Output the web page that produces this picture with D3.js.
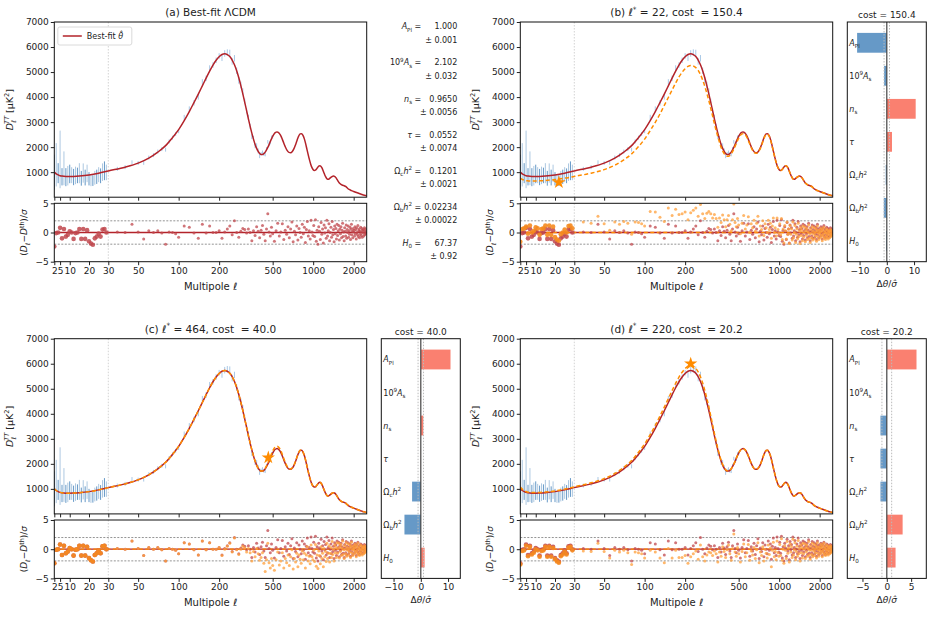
<!DOCTYPE html>
<html lang="en">
<head>
<meta charset="UTF-8">
<title>LCDM perturbations</title>
<script src="https://cdn.jsdelivr.net/npm/d3@7"></script>
<style>
body { margin: 0; background: #fff; }
svg text { font-family: "DejaVu Sans", sans-serif; fill: #222; }
.tick text { font-size: 9px; fill: #222; }
.tick line { stroke: #222; }
.domain { display: none; }
</style>
</head>
<body>
<svg id="fig" width="933" height="626"></svg>
<script>
// ---- multipoles ----
var ellLow = [2,3,4,5,6,7,8,9,10,11,12,13,14,15,16,17,18,19,20,21,22,23,24,25,26,27,28,29];
var ellHigh = [35,40,45,50,55,60,65,70,75,80,85,90,95,100,
  110,120,130,140,150,160,170,180,190,200,210,220,230,240,250,260,270,280,290,300,310,320,330,340,350,360,370,380,390,400,410,420,430,440,450,460,470,480,490,500,
  515,530,545,560,575,590,605,620,635,650,665,680,695,710,725,740,755,770,785,800,815,830,845,860,875,890,905,920,935,950,965,980,995,
  1010,1025,1040,1055,1070,1085,1100,1115,1130,1145,1160,1175,1190,1205,1220,1235,1250,1265,1280,1295,1310,1325,1340,1355,1370,1385,1400,1415,1430,1445,1460,1475,1490,1505,
  1520,1535,1550,1565,1580,1595,1610,1625,1640,1655,1670,1685,1700,1715,1730,1745,1760,1775,1790,1805,1820,1835,1850,1865,1880,1895,1910,1925,1940,1955,1970,1985,2000,
  2015,2030,2045,2060,2075,2090,2105,2120,2135,2150,2165,2180,2195,2210,2225,2240,2255,2270,2285,2300,2315,2330,2345,2360,2375,2390,2405,2420,2435,2450,2465,2480,2495];

// ---- theory spectra D_l [muK^2] ----
var thEll = [2,3,4,5,6,8,10,12,15,20,25,30,40,50,60,70,80,90,100,110,120,130,140,150,160,170,180,190,200,210,220,230,240,250,260,270,280,290,300,310,320,330,340,350,360,370,380,390,400,410,420,430,440,450,460,470,480,490,500,510,520,530,540,550,560,570,580,590,600,
  620,640,660,680,700,720,740,760,780,800,820,840,860,880,900,920,940,960,980,1000,1020,1040,1060,1080,1100,1120,1140,1160,1180,1200,1220,1240,1260,1280,1300,1320,1340,1360,1380,1400,1420,1440,1460,1480,1500,1520,1540,1560,1580,1600,1620,1640,1660,1680,1700,1720,1740,1760,1780,1800,1850,1900,1950,2000,2100,2200,2300,2400,2500];
var thBest = [1000,935,890,860,843,828,826,832,848,890,960,1050,1200,1360,1560,1800,2060,2380,2700,3060,3420,3780,4120,4450,4760,5040,5280,5470,5610,5700,5730,5700,5620,5480,5290,5050,4770,4460,4130,3790,3460,3130,2830,2560,2320,2110,1950,1830,1750,1710,1710,1740,1800,1890,1990,2100,2220,2330,2430,2510,2570,2600,2610,2590,2550,2490,2410,2310,2210,
  2020,1870,1790,1780,1830,1940,2100,2280,2440,2530,2540,2470,2330,2130,1900,1680,1480,1310,1180,1100,1070,1080,1130,1190,1240,1260,1240,1180,1090,990,890,810,750,720,720,740,770,800,825,840,845,835,810,770,720,670,620,580,545,520,500,485,475,468,460,448,430,410,385,360,310,280,255,230,185,145,110,80,58];
var thB = [760,712,680,662,652,643,645,653,668,705,760,830,960,1102,1279,1494,1730,2023,2322,2660,2993,3326,3667,3983,4284,4561,4805,4992,5133,5224,5260,5240,5175,5069,4898,4681,4431,4152,3862,3550,3246,2941,2664,2419,2197,1998,1849,1739,1671,1636,1638,1669,1729,1820,1919,2029,2147,2257,2357,2436,2496,2527,2540,2525,2488,2431,2356,2261,2166,
  1982,1837,1762,1756,1803,1914,2074,2253,2413,2505,2517,2450,2313,2116,1889,1671,1473,1305,1176,1095,1067,1077,1127,1188,1239,1260,1240,1180,1090,990,890,810,750,720,720,740,770,800,825,840,845,835,810,770,720,670,620,580,545,520,500,485,475,468,460,448,430,410,385,360,310,280,255,230,185,145,110,80,58];
var thC = [1000,935,890,860,843,828,826,832,848,890,960,1050,1200,1360,1560,1800,2060,2380,2700,3060,3420,3780,4120,4450,4760,5040,5280,5470,5610,5700,5730,5700,5620,5480,5290,5050,4770,4460,4130,3790,3460,3130,2830,2560,2320,2110,1950,1830,1750,1710,1715,1750,1820,1920,2030,2150,2280,2400,2510,2600,2660,2690,2700,2680,2635,2570,2480,2375,2265,
  2060,1900,1810,1795,1840,1950,2110,2290,2450,2540,2550,2480,2335,2135,1900,1680,1480,1310,1180,1100,1070,1080,1130,1190,1240,1260,1240,1180,1090,990,890,810,750,720,720,740,770,800,825,840,845,835,810,770,720,670,620,580,545,520,500,485,475,468,460,448,430,410,385,360,310,280,255,230,185,145,110,80,58];
var thD = [1080,991,935,894,868,853,851,857,873,917,989,1082,1242,1408,1615,1863,2132,2463,2795,3167,3540,3912,4264,4606,4927,5216,5465,5661,5806,5900,5931,5900,5817,5672,5475,5227,4937,4616,4275,3918,3564,3219,2906,2611,2361,2142,1976,1852,1768,1723,1720,1747,1805,1890,1990,2100,2220,2330,2430,2510,2570,2600,2610,2590,2550,2490,2410,2310,2210,
  2020,1870,1790,1780,1830,1940,2100,2280,2440,2530,2540,2470,2330,2130,1900,1680,1480,1310,1180,1100,1070,1080,1130,1190,1240,1260,1240,1180,1090,990,890,810,750,720,720,740,770,800,825,840,845,835,810,770,720,670,620,580,545,520,500,485,475,468,460,448,430,410,385,360,310,280,255,230,185,145,110,80,58];

// ---- data points: low-l error bar ends, high-l centres and errors ----
var dataLowLo = [300,430,560,360,470,480,440,470,560,560,480,520,560,560,460,580,470,600,470,440,450,500,530,600,560,650,680,680];
var dataLowHi = [1700,2160,1360,2660,1160,1830,1160,1250,1300,1200,1130,1220,1180,1360,1050,1350,1100,1300,1000,900,880,1050,1100,1200,1150,1350,1430,1300];
var dataEll = [35,40,45,50,55,60,65,70,75,80,85,90,95,100,110,120,130,140,150,160,170,180,190,200,210,220,230,240,250,260,270,280,290,300,310,320,330,340,350,360,370,380,390,400,410,420,430,440,450,460,470,480,490,500];
var dataD = [1133,1200,1392,1368,1372,1584,1680,1824,1922,1900,2228,2380,2524,2636,3181,3519,3769,4010,4604,4749,5161,5280,5470,5643,5570,5743,5778,5763,5428,5550,5050,4666,4486,4221,3840,3450,3190,2830,2420,2350,2060,2050,1850,1660,1738,1794,1719,1702,1932,2214,2107,2178,2393,2416];
var dataErr = [80,80,80,80,80,80,80,80,80,80,80,80,80,80,110,110,110,110,110,110,110,110,110,110,130,130,130,130,130,130,130,130,130,130,100,100,100,100,100,100,100,100,100,100,70,70,70,70,70,70,70,70,70,70];

// ---- residuals (D_l - D^th)/sigma ----
var resBestLow = [-2.4,-0.1,0.0,0.8,-1.0,0.6,-0.7,-0.4,0.2,0.0,-1.1,-0.1,0.0,0.6,-1.1,0.6,-1.1,0.4,-1.5,-1.9,-2.1,-1.0,-0.7,-0.2,-0.7,0.5,0.6,0.0];
var resBestHigh = [0.1,0.0,1.4,0.1,-1.1,0.3,0.0,0.3,-0.1,-2.0,0.1,0.0,-0.2,-0.8,
  1.1,0.9,-0.1,-1.0,1.4,-0.1,1.1,0.0,0.0,0.3,-1.0,0.1,0.6,1.1,-0.4,2.0,0.0,-0.8,0.2,0.7,0.5,-0.1,0.6,0.0,-1.4,0.3,-0.5,1.0,0.2,-0.9,0.4,1.2,-0.3,-1.4,0.6,3.2,0.1,-0.6,0.9,-0.2,
  -1.5,0.3,1.6,-0.6,0.1,1.5,-1.2,0.4,-0.3,1.0,-0.9,0.6,1.8,-1.6,0.2,-0.4,1.1,-1.3,0.7,0.0,-0.8,1.4,-0.2,0.9,-1.7,0.5,1.9,-0.6,0.3,-1.1,2.1,0.1,-0.5,
  1.2,-0.7,2.2,-1.5,0.4,-2.0,1.0,0.2,-1.2,1.7,-0.3,0.6,-1.8,1.3,-0.1,0.8,-1.0,2.1,-0.6,0.3,1.5,-1.4,0.0,0.9,-0.8,1.9,-0.4,0.5,-1.6,1.1,-0.2,0.7,-1.1,1.4,
  -0.5,0.3,1.2,-1.3,0.6,-0.2,1.0,-0.9,0.4,1.6,-0.7,0.1,-1.4,0.8,0.2,-0.6,1.3,-1.0,0.5,0.0,1.1,-0.8,0.3,-0.3,0.9,-1.2,0.6,1.4,-0.4,0.2,-0.9,0.7,0.1,
  0.4,-0.6,1.0,-0.2,0.5,-1.1,0.8,0.0,-0.4,1.2,-0.7,0.3,0.6,-0.9,0.2,-0.3,0.9,-0.5,0.1,0.7,-0.8,0.4,-0.1,0.5,-0.6,0.3,0.8,-0.4,0.0,0.6,-0.2,0.3,-0.1];
var resBLow = [-1.6,0.6,0.7,1.0,-0.2,1.2,0.0,0.3,0.9,0.7,-0.4,0.6,0.7,1.2,-0.4,1.2,-0.4,1.0,-0.8,-1.2,-1.4,-0.3,0.0,0.5,0.0,1.1,1.2,0.7];
var resBHigh = [1.8,1.6,2.8,1.5,0.4,1.8,1.4,1.9,1.6,-0.3,1.8,1.7,1.5,1.1,
  3.6,3.5,2.6,1.9,4.2,2.9,4.0,3.1,3.2,3.5,2.2,3.4,3.8,4.2,2.8,4.8,3.2,2.4,3.3,3.6,3.2,2.5,3.1,2.4,0.9,2.5,1.7,3.0,2.2,1.0,2.2,2.9,1.4,0.3,2.2,4.9,1.7,1.0,2.4,1.3,
  -0.2,1.6,2.9,0.6,1.3,2.7,0.0,1.5,0.8,2.1,0.2,1.6,2.8,-0.6,1.1,0.5,2.0,-0.5,1.5,0.8,0.0,2.1,0.5,1.6,-1.0,1.1,2.5,0.0,0.8,-0.6,2.5,0.5,-0.1,
  1.5,-0.4,2.4,-1.2,0.6,-1.8,1.2,0.3,-1.1,1.8,-0.3,0.6,-1.9,1.2,-0.3,0.6,-1.3,1.8,-0.9,0.0,1.2,-1.7,-0.3,0.6,-1.1,1.6,-0.7,0.2,-1.9,0.8,-0.5,0.4,-1.4,1.1,
  -0.8,0.0,0.9,-1.6,0.3,-0.5,0.7,-1.2,0.1,1.3,-1.0,-0.2,-1.7,0.5,-0.1,-0.9,1.0,-1.3,0.2,-0.3,0.8,-1.1,0.0,-0.6,0.6,-1.5,0.3,1.1,-0.7,-0.1,-1.2,0.4,-0.2,
  0.1,-0.9,0.7,-0.5,0.2,-1.4,0.5,-0.3,-0.7,0.9,-1.0,0.0,0.3,-1.2,-0.1,-0.6,0.6,-0.8,-0.2,0.4,-1.1,0.1,-0.4,0.2,-0.9,0.0,0.5,-0.7,-0.3,0.3,-0.5,0.0,-0.4];
var resCLow = [-2.4,-0.1,0.0,0.8,-1.0,0.6,-0.7,-0.4,0.2,0.0,-1.1,-0.1,0.0,0.6,-1.1,0.6,-1.1,0.4,-1.5,-1.9,-2.1,-1.0,-0.7,-0.2,-0.7,0.5,0.6,0.0];
var resCHigh = [0.1,0.0,1.4,0.1,-1.1,0.3,0.0,0.3,-0.1,-2.0,0.1,0.0,-0.2,-0.8,
  1.1,0.9,-0.1,-1.0,1.4,-0.1,1.1,0.0,0.0,0.3,-1.1,0.0,0.5,1.0,-0.5,1.9,-0.1,-0.9,0.0,0.5,0.2,-0.5,0.1,-0.6,-2.0,-0.4,-1.3,0.1,-0.8,-1.9,-1.4,-0.6,-2.4,-3.8,-1.8,1.0,-2.3,-3.2,-1.6,-2.8,
  -3.6,-1.8,-0.5,-2.7,-2.0,-0.6,-3.2,-1.6,-2.3,-1.0,-2.8,-1.3,-0.1,-3.4,-1.6,-2.2,-0.7,-3.0,-1.0,-1.7,-2.4,-0.3,-1.8,-0.7,-3.2,-1.0,0.4,-2.0,-1.2,-2.5,0.7,-1.3,-1.8,
  -0.2,-2.1,0.8,-2.9,-1.0,-3.3,-0.3,-1.1,-2.5,0.4,-1.6,-0.7,-3.0,0.1,-1.3,-0.4,-2.1,1.0,-1.6,-0.7,0.6,-2.2,-0.7,0.3,-1.4,1.3,-0.9,0.0,-2.0,0.7,-0.6,0.3,-1.4,1.1,
  -0.7,0.1,1.0,-1.5,0.4,-0.4,0.8,-1.1,0.2,1.4,-0.9,-0.1,-1.6,0.6,0.0,-0.8,1.1,-1.2,0.3,-0.2,0.9,-1.0,0.1,-0.5,0.7,-1.4,0.4,1.2,-0.6,0.0,-1.1,0.5,-0.1,
  0.2,-0.8,0.8,-0.4,0.3,-1.3,0.6,-0.2,-0.6,1.0,-0.9,0.1,0.4,-1.1,0.0,-0.5,0.7,-0.7,-0.1,0.5,-1.0,0.2,-0.3,0.3,-0.8,0.1,0.6,-0.6,-0.2,0.4,-0.4,0.1,-0.3];
var resDLow = [-2.6,-0.3,-0.2,0.6,-1.2,0.4,-0.9,-0.6,0.0,-0.2,-1.3,-0.3,-0.2,0.4,-1.3,0.4,-1.3,0.2,-1.7,-2.1,-2.3,-1.2,-0.9,-0.4,-0.9,0.3,0.4,-0.2];
var resDHigh = [-0.3,-0.4,1.0,-0.4,-1.5,-0.2,-0.5,-0.2,-0.6,-2.6,-0.5,-0.6,-0.8,-1.5,
  -0.2,-0.5,-1.5,-2.3,0.1,-1.5,-0.2,-1.4,-1.4,-1.1,-2.4,-1.3,-0.8,-0.3,-1.7,0.7,-1.3,-2.0,-1.0,-0.5,-0.6,-1.1,-0.3,-0.8,-2.2,-0.5,-1.2,0.4,-0.4,-1.4,-0.1,0.7,-0.8,-1.9,0.1,2.6,-0.5,-1.2,0.3,-0.8,
  -2.2,-0.4,0.9,-1.3,-0.6,0.8,-1.9,-0.3,-1.0,0.3,-1.6,-0.1,1.1,-2.3,-0.5,-1.1,0.4,-2.0,0.0,-0.7,-1.5,0.7,-0.9,0.2,-3.0,-0.2,1.2,-1.3,-0.4,-1.8,1.4,-0.6,-1.2,
  0.8,-1.1,1.8,-1.9,0.0,-2.4,0.6,-0.2,-1.6,1.3,-0.7,0.2,-2.2,0.9,-0.5,0.4,-1.4,1.7,-1.0,-0.1,1.1,-1.8,-0.4,0.5,-1.2,1.5,-0.8,0.1,-2.0,0.7,-0.6,0.3,-1.5,1.0,
  -0.8,0.0,0.9,-1.6,0.3,-0.5,0.7,-1.2,0.1,1.3,-1.0,-0.2,-1.7,0.5,-0.1,-0.9,1.0,-1.3,0.2,-0.3,0.8,-1.1,0.0,-0.6,0.6,-1.5,0.3,1.1,-0.7,-0.1,-1.2,0.4,-0.2,
  0.2,-0.8,0.8,-0.4,0.3,-1.3,0.6,-0.2,-0.6,1.0,-0.9,0.1,0.4,-1.1,0.0,-0.5,0.7,-0.7,-0.1,0.5,-1.0,0.2,-0.3,0.3,-0.8,0.1,0.6,-0.6,-0.2,0.4,-0.4,0.1,-0.3];

// ---- parameters ----
var paramNames = ["A_Pl", "10^9A_s", "n_s", "tau", "Omega_ch^2", "Omega_bh^2", "H_0"];
var bestVals = ["1.000", "2.102", "0.9650", "0.0552", "0.1201", "0.02234", "67.37"];
var bestErrs = ["0.001", "0.032", "0.0056", "0.0074", "0.0021", "0.00022", "0.92"];
var shiftB = [-10.9, -1.0, 10.6, 1.9, -0.4, -1.1, -0.3];
var shiftC = [10.9, 0.05, 0.9, 0.05, -3.2, -6.0, 1.4];
var shiftD = [6.1, -0.1, -1.3, -1.3, -1.3, 3.25, 1.8];
var starEll = [22, 464, 220];
var starD = [590, 2250, 6000];
var costs = ["150.4", "40.0", "20.2"];

// label pieces for parameter names
var labelParts = {
  "A_Pl": [{t:"A", i:1}, {t:"Pl", pos:"sub"}],
  "10^9A_s": [{t:"10"}, {t:"9", pos:"sup"}, {t:"A", i:1}, {t:"s", pos:"sub"}],
  "n_s": [{t:"n", i:1}, {t:"s", pos:"sub"}],
  "tau": [{t:"τ", i:1}],
  "Omega_ch^2": [{t:"Ω"}, {t:"c", pos:"sub"}, {t:"h", i:1}, {t:"2", pos:"sup"}],
  "Omega_bh^2": [{t:"Ω"}, {t:"b", pos:"sub"}, {t:"h", i:1}, {t:"2", pos:"sup"}],
  "H_0": [{t:"H", i:1}, {t:"0", pos:"sub"}]
};

var RED = "#b3232a", ORANGE = "#ff8c00", BLUE = "#4a86bd", LIGHTBLUE = "#a9c8e6";

var svg = d3.select("#fig");

function rich(text, parts, fs) {
  var shift = 0;
  parts.forEach(function(p) {
    var target = p.pos === "sub" ? fs * 0.3 : p.pos === "sup" ? -fs * 0.42 : 0;
    var t = text.append("tspan").text(p.t).attr("dy", target - shift);
    if (p.dx) t.attr("dx", p.dx);
    if (p.i) t.attr("font-style", "italic");
    if (p.pos) t.attr("font-size", fs * 0.7);
    shift = target;
  });
  return text;
}

var W = 312.4, linW = 54, mainH = 175.2, resTop = 181.3, resH = 58.4;

var panels = [
  {x0: 54.3, y0: 22, title: [{t:"(a) Best-fit ΛCDM"}]},
  {x0: 520.3, y0: 22, k: 0, pert: thB, resLow: resBLow, resHigh: resBHigh, shift: shiftB},
  {x0: 54.3, y0: 338.7, k: 1, pert: thC, resLow: resCLow, resHigh: resCHigh, shift: shiftC},
  {x0: 520.3, y0: 338.7, k: 2, pert: thD, resLow: resDLow, resHigh: resDHigh, shift: shiftD}
];
var letters = ["b", "c", "d"];
panels.forEach(function(p) {
  if (p.k === undefined) return;
  p.title = [{t:"(" + letters[p.k] + ") "}, {t:"ℓ", i:1}, {t:"*", pos:"sup"},
    {t:" = " + starEll[p.k] + ", cost\u00a0 = " + costs[p.k]}];
});

panels.forEach(function(p, pi) {
  var g = svg.append("g").attr("transform", "translate(" + p.x0 + "," + p.y0 + ")");
  var xLin = d3.scaleLinear().domain([2, 30]).range([0, linW]);
  var xLog = d3.scaleLog().domain([30, 2500]).range([linW, W]);
  var x = function(l) { return l <= 30 ? xLin(l) : xLog(l); };
  var y = d3.scaleLinear().domain([0, 7000]).range([mainH, 0]);
  var yr = d3.scaleLinear().domain([-5, 5]).range([resTop + resH, resTop]);

  var cid = "clip" + pi;
  g.append("clipPath").attr("id", cid).append("rect").attr("width", W).attr("height", mainH);
  var cidr = "clipr" + pi;
  g.append("clipPath").attr("id", cidr).append("rect").attr("y", resTop).attr("width", W).attr("height", resH);

  // ---- main panel ----
  var m = g.append("g").attr("clip-path", "url(#" + cid + ")");
  m.append("line").attr("x1", x(30)).attr("x2", x(30)).attr("y1", 0).attr("y2", mainH)
    .attr("stroke", "#c8c8c8").attr("stroke-width", 0.8).attr("stroke-dasharray", "1.5,1.5");
  m.selectAll(".eh").data(dataEll).enter().append("line")
    .attr("x1", function(d) { return x(d); }).attr("x2", function(d) { return x(d); })
    .attr("y1", function(d, i) { return y(dataD[i] - dataErr[i]); })
    .attr("y2", function(d, i) { return y(dataD[i] + dataErr[i]); })
    .attr("stroke", LIGHTBLUE).attr("stroke-width", 1);
  m.selectAll(".el").data(ellLow).enter().append("line")
    .attr("x1", function(d) { return x(d); }).attr("x2", function(d) { return x(d); })
    .attr("y1", function(d, i) { return y(dataLowLo[i]); })
    .attr("y2", function(d, i) { return y(dataLowHi[i]); })
    .attr("stroke", BLUE).attr("stroke-opacity", function(d, i) { return i % 2 ? 0.45 : 0.85; })
    .attr("stroke-width", 1);
  var line = d3.line().x(function(d) { return x(d[0]); }).y(function(d) { return y(d[1]); })
    .curve(d3.curveMonotoneX);
  m.append("path").attr("d", line(thEll.map(function(l, i) { return [l, thBest[i]]; })))
    .attr("fill", "none").attr("stroke", RED).attr("stroke-width", 1.5);
  if (p.pert) {
    m.append("path").attr("d", line(thEll.map(function(l, i) { return [l, p.pert[i]]; })))
      .attr("fill", "none").attr("stroke", ORANGE).attr("stroke-width", 1.5).attr("stroke-dasharray", "4,2.5");
  }
  g.append("rect").attr("width", W).attr("height", mainH).attr("fill", "none").attr("stroke", "#111").attr("stroke-width", 1);
  if (p.pert) {
    g.append("path").attr("d", d3.symbol(d3.symbolStar, 55)())
      .attr("transform", "translate(" + x(starEll[p.k]) + "," + y(starD[p.k]) + ")")
      .attr("fill", ORANGE);
  }

  // axes of main panel
  g.append("g").call(d3.axisLeft(y).tickValues([1000,2000,3000,4000,5000,6000,7000])
    .tickFormat(d3.format("d")).tickSize(3.5).tickPadding(2));
  [[xLin, [2,5,10,20,30]], [xLog, [50,100,200,500,1000,2000]]].forEach(function(a) {
    g.append("g").attr("transform", "translate(0," + mainH + ")")
      .call(d3.axisBottom(a[0]).tickValues(a[1]).tickSize(3.5).tickFormat(""));
    g.append("g").attr("transform", "translate(0," + (resTop + resH) + ")")
      .call(d3.axisBottom(a[0]).tickValues(a[1]).tickSize(3.5).tickPadding(2).tickFormat(d3.format("d")));
  });

  // title and y labels
  rich(g.append("text").attr("x", W / 2).attr("y", -6).attr("text-anchor", "middle").attr("font-size", 10.5), p.title, 10.5);
  rich(g.append("text").attr("transform", "translate(-41," + (mainH / 2) + ") rotate(-90)")
    .attr("text-anchor", "middle").attr("font-size", 9.5),
    [{t:"D", i:1}, {t:"ℓ", i:1, pos:"sub"}, {t:"TT", i:1, pos:"sup", dx:-4}, {t:" [μK"}, {t:"2", pos:"sup"}, {t:"]"}], 9.5);
  rich(g.append("text").attr("transform", "translate(-27," + (resTop + resH / 2) + ") rotate(-90)")
    .attr("text-anchor", "middle").attr("font-size", 9),
    [{t:"("}, {t:"D", i:1}, {t:"ℓ", i:1, pos:"sub"}, {t:"−"}, {t:"D", i:1}, {t:"th", pos:"sup"}, {t:")/"}, {t:"σ", i:1}], 9);
  rich(g.append("text").attr("x", W / 2).attr("y", resTop + resH + 28).attr("text-anchor", "middle").attr("font-size", 10),
    [{t:"Multipole "}, {t:"ℓ", i:1}], 10);

  // legend on panel (a)
  if (pi === 0) {
    var lg = g.append("g").attr("transform", "translate(3.5,5)");
    lg.append("rect").attr("width", 74).attr("height", 18).attr("rx", 2)
      .attr("fill", "#fff").attr("stroke", "#d0d0d0").attr("stroke-width", 0.8);
    lg.append("line").attr("x1", 5).attr("x2", 24).attr("y1", 9).attr("y2", 9)
      .attr("stroke", RED).attr("stroke-width", 1.5);
    rich(lg.append("text").attr("x", 29).attr("y", 12).attr("font-size", 8),
      [{t:"Best-fit "}, {t:"θ\u0302", i:1}], 8);
  }

  // ---- residual panel ----
  var r = g.append("g").attr("clip-path", "url(#" + cidr + ")");
  r.append("line").attr("x1", x(30)).attr("x2", x(30)).attr("y1", resTop).attr("y2", resTop + resH)
    .attr("stroke", "#c8c8c8").attr("stroke-width", 0.8).attr("stroke-dasharray", "1.5,1.5");
  [-2, 2].forEach(function(v) {
    r.append("line").attr("x1", 0).attr("x2", W).attr("y1", yr(v)).attr("y2", yr(v))
      .attr("stroke", "#888").attr("stroke-width", 0.9).attr("stroke-dasharray", "2,1.5");
  });
  r.append("line").attr("x1", 0).attr("x2", W).attr("y1", yr(0)).attr("y2", yr(0))
    .attr("stroke", RED).attr("stroke-width", 1.3);
  if (p.pert) {
    r.append("line").attr("x1", 0).attr("x2", W).attr("y1", yr(0)).attr("y2", yr(0))
      .attr("stroke", ORANGE).attr("stroke-width", 1.3).attr("stroke-dasharray", "4,2.5");
  }
  function dots(ells, vals, rad, col, op) {
    r.append("g").selectAll("circle").data(ells).enter().append("circle")
      .attr("cx", function(d) { return x(d); })
      .attr("cy", function(d, i) { return yr(vals[i]); })
      .attr("r", rad).attr("fill", col).attr("fill-opacity", op);
  }
  dots(ellHigh, resBestHigh, 1.5, "#c0474c", 0.75);
  dots(ellLow, resBestLow, 2.3, "#c0474c", 0.85);
  if (p.pert) {
    dots(ellHigh, p.resHigh, 1.5, "#ff9f3a", 0.75);
    dots(ellLow, p.resLow, 2.3, "#f5891f", 0.9);
  }
  g.append("rect").attr("y", resTop).attr("width", W).attr("height", resH)
    .attr("fill", "none").attr("stroke", "#111").attr("stroke-width", 1);
  g.append("g").call(d3.axisLeft(yr).tickValues([-5, 0, 5]).tickSize(3.5).tickPadding(2));

  // ---- side panel ----
  var sx0 = 327, sw = 79, sh = resTop + resH;
  if (!p.pert) {
    paramNames.forEach(function(n, i) {
      var yy = 7.3 + 36.1 * i;
      var vt = g.append("text").attr("x", 403).attr("y", yy).attr("text-anchor", "end")
        .attr("font-size", 8).text(bestVals[i]);
      var vw = vt.node().getComputedTextLength();
      var eqX = Math.min(367, 403 - vw - 3);
      rich(g.append("text").attr("x", eqX).attr("y", yy).attr("text-anchor", "end").attr("font-size", 8),
        labelParts[n].concat([{t:" ="}]), 8);
      g.append("text").attr("x", 403).attr("y", yy + 13.4).attr("text-anchor", "end")
        .attr("font-size", 8).text("± " + bestErrs[i]);
    });
    return;
  }
  var vals = p.shift;
  var lim = 1.33 * d3.max(vals, function(v) { return Math.abs(v); });
  var xb = d3.scaleLinear().domain([-lim, lim]).range([0, sw]);
  var yb = d3.scaleLinear().domain([-0.63, 6.63]).range([0, sh]);
  var s = g.append("g").attr("transform", "translate(" + sx0 + ",0)");
  s.selectAll(".bar").data(vals).enter().append("rect")
    .attr("x", function(v) { return xb(Math.min(0, v)); })
    .attr("width", function(v) { return Math.abs(xb(v) - xb(0)); })
    .attr("y", function(v, i) { return yb(i - 0.3); })
    .attr("height", yb(0.6) - yb(0))
    .attr("fill", function(v) { return v < 0 ? "#6699c7" : "#fa8070"; });
  [-1, 1].forEach(function(v) {
    s.append("line").attr("x1", xb(v)).attr("x2", xb(v)).attr("y1", 0).attr("y2", sh)
      .attr("stroke", "#bbb").attr("stroke-width", 1).attr("stroke-dasharray", "1.5,1.5");
  });
  s.append("line").attr("x1", xb(0)).attr("x2", xb(0)).attr("y1", 0).attr("y2", sh)
    .attr("stroke", "#444").attr("stroke-width", 1.2);
  paramNames.forEach(function(n, i) {
    rich(s.append("text").attr("x", 2).attr("y", yb(i) + 3).attr("font-size", 8), labelParts[n], 8);
  });
  s.append("rect").attr("width", sw).attr("height", sh).attr("fill", "none").attr("stroke", "#111").attr("stroke-width", 1);
  s.append("g").attr("transform", "translate(0," + sh + ")")
    .call(d3.axisBottom(xb).ticks(3).tickSize(3.5).tickPadding(2));
  s.append("text").attr("x", sw / 2).attr("y", -4).attr("text-anchor", "middle").attr("font-size", 9)
    .text("cost = " + costs[p.k]);
  rich(s.append("text").attr("x", sw / 2).attr("y", sh + 25).attr("text-anchor", "middle").attr("font-size", 9),
    [{t:"Δ"}, {t:"θ", i:1}, {t:"/"}, {t:"σ\u0302", i:1}], 9);
});
</script>
</body>
</html>
